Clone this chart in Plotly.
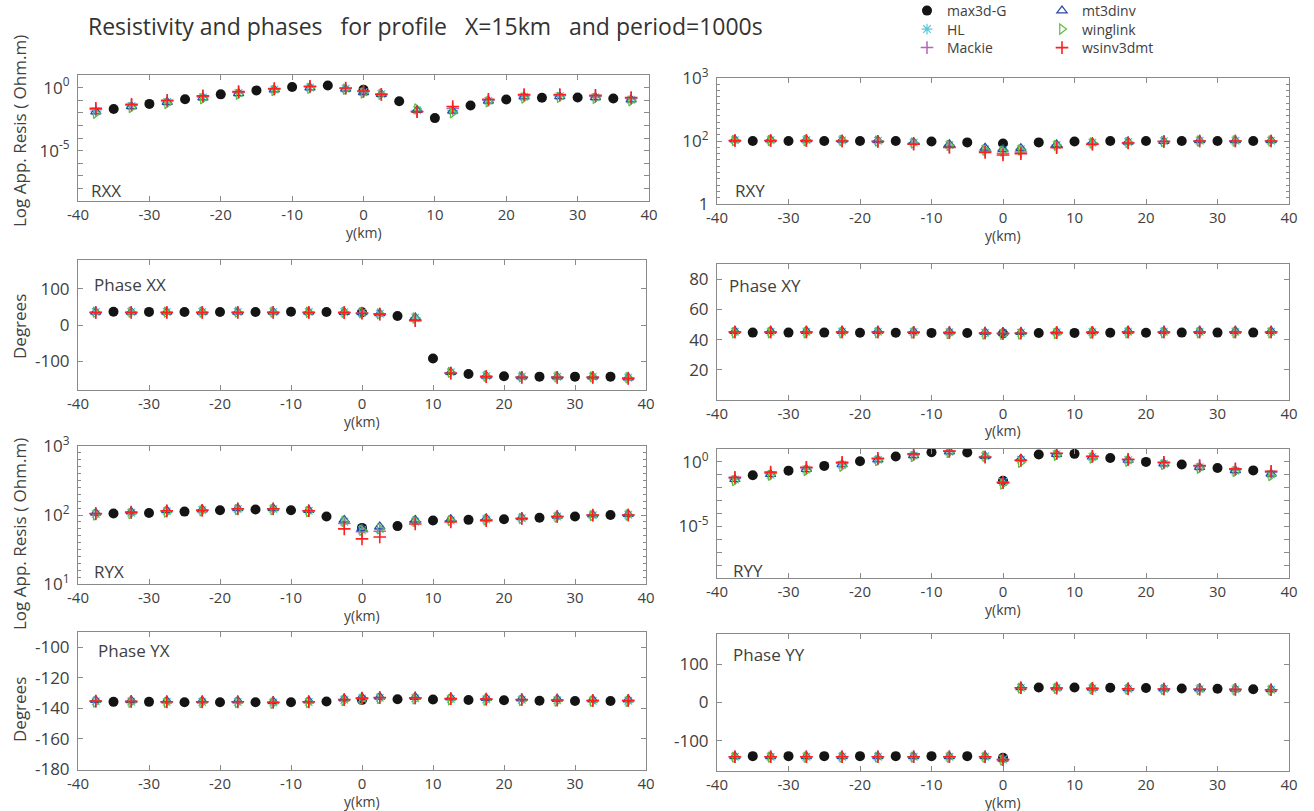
import plotly.graph_objects as go

W, H = 1314, 811

# ---------------- data ----------------
Y_MAX3D = [-35, -30, -25, -20, -15, -10, -5, 0, 5, 10, 15, 20, 25, 30, 35]
Y_INV = [-37.5, -32.5, -27.5, -22.5, -17.5, -12.5, -7.5, -2.5, 0, 2.5,
         7.5, 12.5, 17.5, 22.5, 27.5, 32.5, 37.5]
X_TICKS = [-40, -30, -20, -10, 0, 10, 20, 30, 40]

# RXX apparent resistivity (Ohm.m)
RXX_MAX3D = [0.020, 0.051, 0.12, 0.29, 0.60, 1.12, 1.45, 0.69, 0.083, 0.0038, 0.038, 0.115, 0.155, 0.166, 0.138]
RXX_HL = [0.013, 0.034, 0.073, 0.17, 0.37, 0.70, 1.02, 0.80, 0.43, 0.30, 0.016, 0.015, 0.091, 0.19, 0.21, 0.17, 0.11]
RXX_MACKIE = [0.018, 0.040, 0.085, 0.19, 0.42, 0.76, 1.15, 0.86, 0.48, 0.29, 0.013, 0.022, 0.10, 0.24, 0.24, 0.21, 0.14]
RXX_MT3DINV = [0.0126, 0.032, 0.071, 0.16, 0.35, 0.68, 1.0, 0.79, 0.42, 0.30, 0.016, 0.014, 0.089, 0.19, 0.20, 0.17, 0.11]
RXX_WINGLINK = [0.0091, 0.026, 0.055, 0.13, 0.29, 0.58, 0.89, 0.74, 0.37, 0.29, 0.020, 0.010, 0.074, 0.15, 0.166, 0.138, 0.089]
RXX_WSINV = [0.023, 0.048, 0.10, 0.22, 0.48, 0.83, 1.29, 0.93, 0.54, 0.29, 0.012, 0.032, 0.12, 0.28, 0.28, 0.24, 0.166]

# RXY apparent resistivity (Ohm.m)
RXY_MAX3D = [100, 100, 100, 100, 100, 98, 95, 91, 95, 98, 100, 100, 100, 100, 100]
RXY_HL = [103, 103, 103, 102, 101, 94, 86, 74, 71, 74, 86, 94, 96, 99, 101, 101, 101]
RXY_MACKIE = [101, 101, 101, 100, 99, 91, 81, 69, 64, 67, 81, 90, 94, 98, 100, 100, 100]
RXY_MT3DINV = [105, 105, 105, 104, 102, 96, 89, 78, 74, 77, 88, 95, 97, 99, 102, 102, 102]
RXY_WINGLINK = [102, 102, 102, 102, 100, 93, 85, 72, 69, 72, 85, 93, 95, 98, 100, 100, 100]
RXY_WSINV = [102, 102, 102, 100, 98, 89, 79, 66, 60, 63, 78, 89, 93, 98, 100, 100, 100]

# Phase XX (degrees)
PXX_MAX3D = [36.5, 36.3, 36.2, 36.2, 36.2, 36.5, 36.0, 35.5, 25.0, -93.0, -135.5, -142.0, -143.0, -143.0, -143.0]
PXX_HL = [35.9, 36.0, 36.0, 36.0, 36.0, 36.0, 35.8, 35.4, 34.2, 31.4, 20.0, -131.0, -141.2, -143.2, -143.2, -143.2, -145.8]
PXX_MACKIE = [35.0, 35.2, 35.2, 35.2, 35.2, 35.2, 35.0, 34.8, 33.2, 30.5, 14.0, -132.5, -142.5, -144.5, -144.5, -144.5, -147.0]
PXX_MT3DINV = [36.2, 36.4, 36.4, 36.4, 36.4, 36.4, 36.2, 35.8, 34.8, 31.8, 21.0, -130.5, -141.0, -143.0, -143.0, -143.0, -145.5]
PXX_WINGLINK = [35.5, 35.6, 35.6, 35.6, 35.6, 35.6, 35.4, 35.0, 34.0, 31.0, 19.5, -131.0, -141.5, -143.5, -143.5, -143.5, -146.0]
PXX_WSINV = [34.6, 34.8, 34.8, 34.8, 34.8, 34.8, 34.6, 34.4, 32.7, 30.0, 12.0, -133.6, -143.0, -145.0, -145.0, -145.0, -148.0]

# Phase XY (degrees)
PXY_MAX3D = [44.6, 44.6, 44.6, 44.5, 44.5, 44.4, 44.3, 44.0, 44.3, 44.4, 44.5, 44.5, 44.6, 44.6, 44.6]
PXY_HL = [45.2, 45.2, 45.2, 45.2, 45.2, 45.0, 44.8, 44.5, 44.3, 44.5, 44.8, 45.0, 45.2, 45.2, 45.2, 45.2, 45.2]
PXY_MACKIE = [45.0, 45.0, 45.0, 45.0, 45.0, 44.8, 44.6, 44.3, 44.1, 44.3, 44.6, 44.8, 45.0, 45.0, 45.0, 45.0, 45.0]
PXY_MT3DINV = [45.6, 45.6, 45.6, 45.6, 45.6, 45.4, 45.2, 44.9, 44.7, 44.9, 45.2, 45.4, 45.6, 45.6, 45.6, 45.6, 45.6]
PXY_WINGLINK = [44.5, 44.5, 44.5, 44.5, 44.5, 44.3, 44.0, 43.6, 43.4, 43.6, 44.0, 44.3, 44.5, 44.5, 44.5, 44.5, 44.5]
PXY_WSINV = [45.0, 45.0, 45.0, 45.0, 45.0, 44.8, 44.6, 44.3, 44.0, 44.2, 44.6, 44.8, 45.0, 45.0, 45.0, 45.0, 45.0]

# RYX apparent resistivity (Ohm.m)
RYX_MAX3D = [105, 107, 112, 117, 120, 117, 95, 65, 69, 83, 85, 87, 91, 95, 100]
RYX_HL = [103, 108, 113, 118, 122, 122, 115, 80, 60, 62, 80, 83, 86, 90, 95, 99, 101]
RYX_MACKIE = [104, 109, 114, 117, 122, 122, 115, 75, 57, 58, 79, 82, 85, 89, 95, 99, 100]
RYX_MT3DINV = [107, 112, 117, 120, 125, 125, 118, 85, 64, 68, 85, 87, 89, 92, 97, 101, 103]
RYX_WINGLINK = [100, 105, 110, 115, 120, 120, 112, 81, 60, 63, 81, 83, 85, 89, 93, 98, 100]
RYX_WSINV = [105, 110, 115, 117, 123, 123, 115, 63, 45, 48, 74, 79, 83, 89, 95, 100, 100]

# RYY apparent resistivity (Ohm.m)
RYY_MAX3D = [0.091, 0.21, 0.49, 1.12, 2.6, 5.6, 5.4, 0.035, 3.7, 4.2, 2.0, 1.0, 0.62, 0.34, 0.22]
RYY_HL = [0.043, 0.10, 0.26, 0.60, 1.45, 3.1, 6.0, 2.7, 0.028, 1.5, 3.9, 2.4, 1.35, 0.72, 0.39, 0.21, 0.11]
RYY_MACKIE = [0.055, 0.13, 0.33, 0.80, 1.7, 3.8, 6.6, 2.5, 0.024, 1.3, 4.4, 2.6, 1.5, 0.85, 0.47, 0.26, 0.16]
RYY_MT3DINV = [0.045, 0.11, 0.27, 0.63, 1.5, 3.2, 6.3, 2.8, 0.032, 1.8, 4.0, 2.5, 1.4, 0.74, 0.40, 0.22, 0.12]
RYY_WINGLINK = [0.035, 0.091, 0.21, 0.46, 1.26, 2.6, 5.4, 2.75, 0.0195, 0.93, 3.3, 2.0, 1.12, 0.62, 0.32, 0.18, 0.087]
RYY_WSINV = [0.065, 0.16, 0.39, 0.93, 1.9, 4.2, 6.8, 2.3, 0.026, 1.35, 4.7, 2.75, 1.6, 0.93, 0.52, 0.29, 0.19]

# Phase YX (degrees)
PYX_MAX3D = [-135.7, -135.7, -136.0, -136.0, -136.0, -136.0, -135.5, -134.5, -134.0, -134.2, -134.5, -134.7, -135.0, -135.2, -135.2]
PYX_HL = [-135.4, -135.6, -135.8, -135.8, -135.8, -136.2, -135.8, -134.4, -133.5, -133.1, -133.3, -133.8, -134.1, -134.4, -134.7, -135.0, -135.0]
PYX_MACKIE = [-135.3, -135.5, -135.7, -135.7, -135.7, -136.1, -135.7, -134.3, -133.4, -133.0, -133.2, -133.7, -134.0, -134.3, -134.6, -134.9, -134.9]
PYX_MT3DINV = [-134.6, -134.8, -135.0, -135.0, -135.0, -135.4, -135.0, -133.6, -132.8, -132.4, -132.6, -133.0, -133.3, -133.6, -133.9, -134.2, -134.2]
PYX_WINGLINK = [-135.8, -136.0, -136.2, -136.2, -136.2, -136.6, -136.2, -134.8, -134.0, -133.6, -133.8, -134.3, -134.6, -134.9, -135.2, -135.4, -135.4]
PYX_WSINV = [-135.2, -135.4, -135.6, -135.6, -135.6, -136.0, -135.6, -134.2, -133.3, -132.9, -133.1, -133.6, -133.9, -134.2, -134.5, -134.8, -134.8]

# Phase YY (degrees)
PYY_MAX3D = [-141.0, -141.0, -141.0, -141.0, -141.0, -141.0, -141.0, -145.0, 39.6, 39.5, 38.8, 38.0, 37.0, 36.0, 35.0]
PYY_HL = [-142.8, -142.8, -142.8, -142.8, -142.8, -142.8, -142.8, -142.8, -149.5, 38.6, 37.8, 36.8, 35.8, 35.3, 34.8, 34.3, 33.3]
PYY_MACKIE = [-142.6, -142.6, -142.6, -142.6, -142.6, -142.6, -142.6, -142.6, -150.0, 38.7, 37.9, 36.9, 35.9, 35.4, 34.9, 34.4, 33.4]
PYY_MT3DINV = [-141.5, -141.5, -141.5, -141.5, -141.5, -141.5, -141.5, -141.5, -148.5, 40.0, 39.2, 38.2, 37.2, 36.7, 36.2, 35.7, 34.7]
PYY_WINGLINK = [-143.5, -143.5, -143.5, -143.5, -143.5, -143.5, -143.5, -143.5, -151.0, 37.8, 37.0, 36.0, 35.0, 34.5, 34.0, 33.5, 32.5]
PYY_WSINV = [-142.5, -142.5, -142.5, -142.5, -142.5, -142.5, -142.5, -142.5, -150.0, 38.8, 38.0, 37.0, 36.0, 35.5, 35.0, 34.5, 33.5]

MODEL_NAMES = ["max3d-G", "HL", "Mackie", "mt3dinv", "winglink", "wsinv3dmt"]
PANEL_LABELS = ["RXX", "RXY", "Phase XX", "Phase XY", "RYX", "RYY", "Phase YX", "Phase YY"]

# ---------------- styles ----------------
FONT = "Open Sans"
LABEL_FONT = "Liberation Sans Narrow, Open Sans"
TXT = "#404040"
AXC = "#8a8a8a"

STYLE = {
    "max3d-G": dict(symbol="circle", color="#141414", size=10, lw=0),
    "HL": dict(symbol="asterisk-open", color="#5cc6dc", size=9, lw=1.2),
    "Mackie": dict(symbol="cross-thin-open", color="#b565b8", size=9, lw=1.5),
    "mt3dinv": dict(symbol="triangle-up-open", color="#2a48a8", size=9, lw=1.2),
    "winglink": dict(symbol="triangle-right-open", color="#5dbd3f", size=9, lw=1.2),
    "wsinv3dmt": dict(symbol="cross-thin-open", color="#ff1f1f", size=9, lw=1.6),
}
# one single-entry legend per model, placed as in the reference (left x px, row y px)
LEGEND_POS = {
    "max3d-G": ("legend", 907, 11), "HL": ("legend2", 907, 29.5), "Mackie": ("legend3", 907, 48),
    "mt3dinv": ("legend4", 1042, 11), "winglink": ("legend5", 1042, 29.5), "wsinv3dmt": ("legend6", 1042, 48),
}

panel_data = [
    [RXX_MAX3D, RXX_HL, RXX_MACKIE, RXX_MT3DINV, RXX_WINGLINK, RXX_WSINV],
    [RXY_MAX3D, RXY_HL, RXY_MACKIE, RXY_MT3DINV, RXY_WINGLINK, RXY_WSINV],
    [PXX_MAX3D, PXX_HL, PXX_MACKIE, PXX_MT3DINV, PXX_WINGLINK, PXX_WSINV],
    [PXY_MAX3D, PXY_HL, PXY_MACKIE, PXY_MT3DINV, PXY_WINGLINK, PXY_WSINV],
    [RYX_MAX3D, RYX_HL, RYX_MACKIE, RYX_MT3DINV, RYX_WINGLINK, RYX_WSINV],
    [RYY_MAX3D, RYY_HL, RYY_MACKIE, RYY_MT3DINV, RYY_WINGLINK, RYY_WSINV],
    [PYX_MAX3D, PYX_HL, PYX_MACKIE, PYX_MT3DINV, PYX_WINGLINK, PYX_WSINV],
    [PYY_MAX3D, PYY_HL, PYY_MACKIE, PYY_MT3DINV, PYY_WINGLINK, PYY_WSINV],
]

# pixel boxes (x0, x1, y0_top, y1_bottom)
BOXES = [
    (78, 649, 75, 201),
    (717, 1289, 78, 204),
    (78, 646, 260, 390),
    (717, 1289, 264, 400),
    (78, 646, 446, 584),
    (717, 1289, 449, 578),
    (78, 646, 632, 770),
    (717, 1289, 634, 771),
]

# panel label positions (left x px, center y px)
LABEL_POS = [(89, 190), (733, 190), (92, 284), (727, 285), (92, 571), (731, 570), (96, 650), (731, 654)]


def hyph(v):
    return str(v).replace("\u2212", "-")


DECADE_MINOR = dict(tickmode="linear", tick0=0, dtick=1, ticklen=5, tickcolor=AXC, ticks="inside")
FINE_MINOR = dict(tickmode="linear", tick0=0, dtick=0.1, ticklen=3, tickcolor=AXC, ticks="inside")

YAXES = [
    dict(type="log", range=[-9, 1], tickmode="array", tickvals=[1e-5, 1],
         ticktext=["10<sup>-5</sup>", "10<sup>0</sup>"], minor=DECADE_MINOR),
    dict(type="log", range=[0.999, 3.001], tickmode="array", tickvals=[10, 100, 1000],
         ticktext=["1", "10<sup>2</sup>", "10<sup>3</sup>"], minor=FINE_MINOR),
    dict(range=[-180, 180], tickmode="array", tickvals=[-100, 0, 100],
         ticktext=[hyph(v) for v in [-100, 0, 100]]),
    dict(range=[0, 90], tickmode="array", tickvals=[20, 40, 60, 80],
         ticktext=[hyph(v) for v in [20, 40, 60, 80]]),
    dict(type="log", range=[0.999, 3.001], tickmode="array", tickvals=[10, 100, 1000],
         ticktext=["10<sup>1</sup>", "10<sup>2</sup>", "10<sup>3</sup>"], minor=FINE_MINOR),
    dict(type="log", range=[-9, 1], tickmode="array", tickvals=[1e-5, 1],
         ticktext=["10<sup>-5</sup>", "10<sup>0</sup>"], minor=DECADE_MINOR),
    dict(range=[-180.3, -90], tickmode="array", tickvals=[-180, -160, -140, -120, -100],
         ticktext=[hyph(v) for v in [-180, -160, -140, -120, -100]]),
    dict(range=[-180, 180], tickmode="array", tickvals=[-100, 0, 100],
         ticktext=[hyph(v) for v in [-100, 0, 100]]),
]

fig = go.Figure()
layout = {}
annotations = []

for i in range(8):
    n = i + 1
    xa = "x" if n == 1 else f"x{n}"
    ya = "y" if n == 1 else f"y{n}"
    x0, x1, y0, y1 = BOXES[i]
    for j, name in enumerate(MODEL_NAMES):
        st = STYLE[name]
        xs = Y_MAX3D if name == "max3d-G" else Y_INV
        fig.add_trace(go.Scatter(
            x=xs, y=panel_data[i][j], mode="markers", name=name,
            xaxis=xa, yaxis=ya, legend=LEGEND_POS[name][0], showlegend=(i == 0),
            marker=dict(symbol=st["symbol"], color=st["color"], size=st["size"],
                        line=dict(color=st["color"], width=st["lw"])),
        ))
    common = dict(showline=True, linecolor=AXC, linewidth=1, mirror="ticks",
                  ticks="inside", ticklen=5, tickcolor=AXC, showgrid=False,
                  zeroline=False, automargin=False)
    xkey = "xaxis" if n == 1 else f"xaxis{n}"
    ykey = "yaxis" if n == 1 else f"yaxis{n}"
    layout[xkey] = dict(common, domain=[x0 / W, x1 / W], anchor=ya, range=[-40, 40],
                        tickmode="array", tickvals=X_TICKS, ticktext=[hyph(v) for v in X_TICKS],
                        tickfont=dict(family=FONT, size=15, color=TXT), ticklabelstandoff=0)
    layout[ykey] = dict(common, domain=[1 - y1 / H, 1 - y0 / H], anchor=xa,
                        tickfont=dict(family=FONT, size=17, color=TXT), ticklabelstandoff=4,
                        **YAXES[i])
    # panel label
    lx, ly = LABEL_POS[i]
    annotations.append(dict(text=PANEL_LABELS[i], x=lx / W, y=1 - ly / H, xref="paper", yref="paper",
                            xanchor="left", yanchor="middle", showarrow=False,
                            font=dict(family=LABEL_FONT, size=17, color=TXT)))
    # x-axis title
    annotations.append(dict(text="y(km)", x=(x0 + x1) / 2 / W, y=1 - (y1 + 31) / H,
                            xref="paper", yref="paper", xanchor="center", yanchor="middle",
                            showarrow=False, font=dict(family=FONT, size=14, color=TXT)))

# y-axis titles
for text, cy in [("Log App. Resis ( Ohm.m)", 131), ("Degrees", 327),
                 ("Log App. Resis ( Ohm.m)", 534), ("Degrees", 710)]:
    annotations.append(dict(text=text, x=19 / W, y=1 - cy / H, xref="paper", yref="paper",
                            xanchor="center", yanchor="middle", textangle=-90, showarrow=False,
                            font=dict(family=FONT, size=17, color=TXT)))

legends = {}
for name, (lid, lx, ly) in LEGEND_POS.items():
    legends[lid] = dict(orientation="v", bgcolor="rgba(0,0,0,0)", borderwidth=0,
                        font=dict(family=FONT, size=14, color=TXT),
                        x=lx / W, xanchor="left", y=1 - ly / H, yanchor="middle")

GAP = "\u00a0\u00a0 "
fig.update_layout(
    width=W, height=H, margin=dict(l=0, r=0, t=0, b=0, autoexpand=False),
    paper_bgcolor="white", plot_bgcolor="white",
    title=dict(text="Resistivity and phases" + GAP + "for profile" + GAP + "X=15km" + GAP + "and period=1000s",
               x=88 / W, xanchor="left", y=1 - 27 / H, yanchor="middle",
               font=dict(family=FONT, size=23, color="#333333")),
    annotations=annotations,
    **legends,
    **layout,
)

fig.write_html("out.html", config={"displayModeBar": False},
               post_script="document.body.style.margin='0px';")
